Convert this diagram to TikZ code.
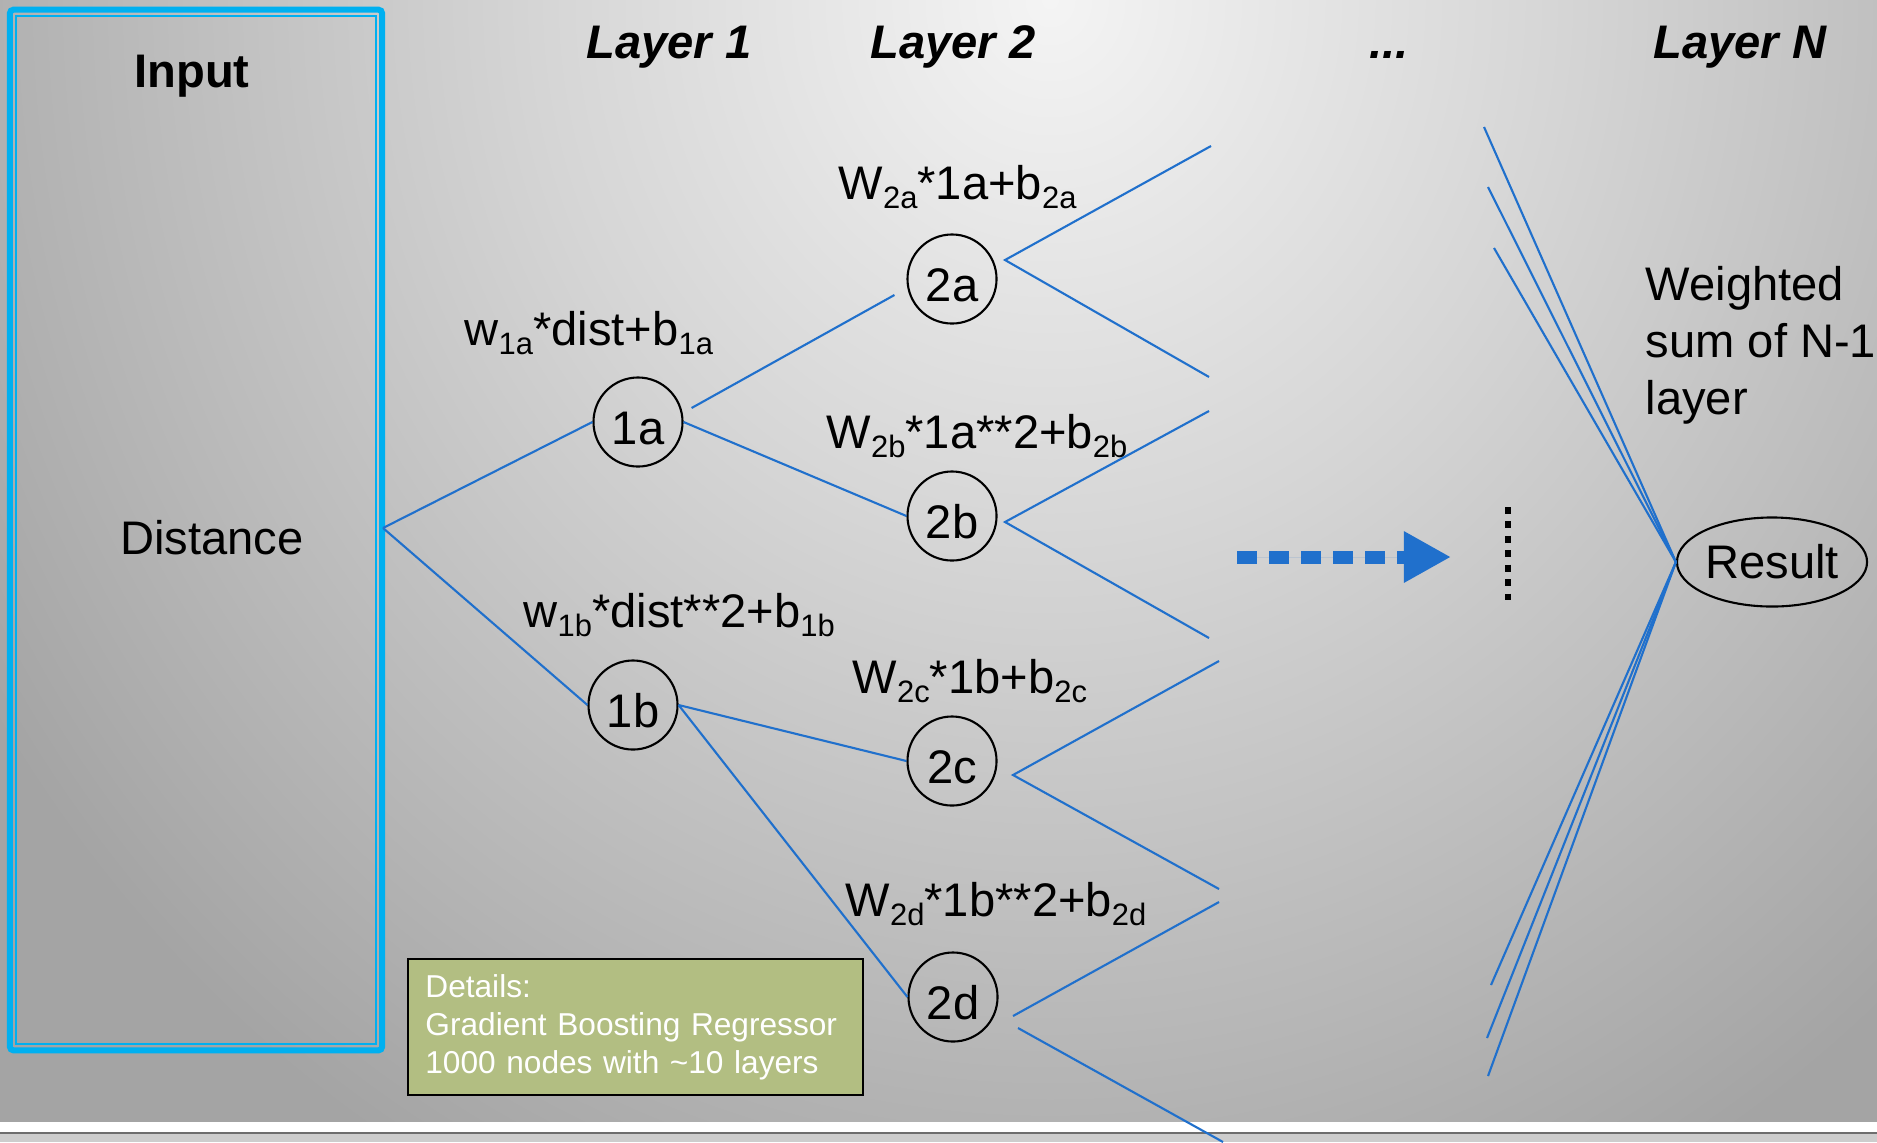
\documentclass[tikz,border=0pt]{standalone}
\usepackage{fontspec}
\setmainfont{Liberation Sans}
\usetikzlibrary{shapes.geometric,arrows.meta}
\definecolor{lineblue}{RGB}{32,112,204}
\definecolor{boxblue}{RGB}{0,176,240}
\definecolor{detfill}{RGB}{178,190,130}
\definecolor{bgin}{RGB}{244,244,244}
\definecolor{bgmid}{RGB}{214,214,214}
\definecolor{bgout}{RGB}{164,164,164}
\definecolor{stripgray}{RGB}{205,205,205}
\definecolor{stripshadow}{RGB}{110,110,110}
\pgfdeclareradialshading{bgshade}{\pgfpoint{0bp}{0bp}}{color(0bp)=(bgin);color(10bp)=(bgmid);color(25bp)=(bgout);color(50bp)=(bgout)}
\newcommand{\lsub}[1]{\raisebox{-0.21em}{\fontsize{8.8pt}{10pt}\selectfont #1}}
\begin{document}
\begin{tikzpicture}[x=0.01cm,y=-0.01cm,
  every node/.style={font=\fontsize{13.4pt}{16pt}\selectfont},
  neuron/.style={circle, draw=black, line width=0.6pt, minimum size=0.89cm, inner sep=0pt, text height=13pt, text depth=0pt},
  conn/.style={draw=lineblue, line width=0.6pt},
  flbl/.style={anchor=base west, inner sep=0pt},
  layerlbl/.style={anchor=base, inner sep=0pt, font=\fontsize{13.4pt}{16pt}\selectfont\bfseries\itshape}]
\useasboundingbox (0,0) rectangle (1877,1142);
% background
\fill[bgout] (0,0) rectangle (1877,1122);
\begin{scope}
  \clip (0,0) rectangle (1877,1122);
  \shade[shading=bgshade] (-200,-1350) rectangle (2300,1350);
\end{scope}
\fill[white] (0,1122) rectangle (1877,1132);
\fill[stripgray] (0,1132) rectangle (1877,1142);
\draw[stripshadow, line width=0.6pt] (0,1133) -- (1877,1133);
% input box
\node[draw=boxblue, line width=1.7pt, rounded corners=1pt, minimum width=3.72cm, minimum height=10.4cm, inner sep=0pt] (inbox) at (196,530) {};
\draw[boxblue, line width=0.55pt] (16,16) rectangle (376,1044);
\node[anchor=base, inner sep=0pt, font=\fontsize{13.4pt}{16pt}\selectfont\bfseries] (inputlbl) at (192,87) {Input};
\node[anchor=base, inner sep=0pt] (distlbl) at (212,554) {Distance};
% layer labels
\node[layerlbl] (lay1) at (669,58) {Layer 1};
\node[layerlbl] (lay2) at (953,58) {Layer 2};
\node[layerlbl] (laydots) at (1389,58) {...};
\node[layerlbl] (layN) at (1740,58) {Layer N};
% neurons
\node[neuron] (n1a) at (638,422) {1a};
\node[neuron] (n1b) at (633,705) {1b};
\node[neuron] (n2a) at (952,279) {2a};
\node[neuron] (n2b) at (952,516) {2b};
\node[neuron] (n2c) at (952,761) {2c};
\node[neuron] (n2d) at (953,997) {2d};
% formula labels
\node[flbl] (f1a) at (464,345) {w\lsub{1a}*dist+b\lsub{1a}};
\node[flbl] (f1b) at (523,627) {w\lsub{1b}*dist**2+b\lsub{1b}};
\node[flbl] (f2a) at (838,199) {W\lsub{2a}*1a+b\lsub{2a}};
\node[flbl] (f2b) at (826,448) {W\lsub{2b}*1a**2+b\lsub{2b}};
\node[flbl] (f2c) at (852,693) {W\lsub{2c}*1b+b\lsub{2c}};
\node[flbl] (f2d) at (845,916) {W\lsub{2d}*1b**2+b\lsub{2d}};
% connectors layer 0 -> 1 -> 2
\coordinate (fork) at (383,528);
\draw[conn] (fork) -- (n1a.west);
\draw[conn] (fork) -- (n1b.west);
\draw[conn] ([shift={(8,-14)}]n1a.east) -- ([shift={(-12,16)}]n2a.west);
\draw[conn] (n1a.east) -- (n2b.west);
\draw[conn] (n1b.east) -- (n2c.west);
\draw[conn] (n1b.east) -- (n2d.west);
% layer 2 outgoing
\coordinate (v2a) at (1005,260);
\coordinate (a1) at (1211,146);
\coordinate (a2) at (1209,377);
\coordinate (v2b) at (1005,522);
\coordinate (b1) at (1209,411);
\coordinate (b2) at (1209,638);
\coordinate (v2c) at (1013,775);
\coordinate (c1) at (1219,661);
\coordinate (c2) at (1219,889);
\coordinate (v2d) at (1013,1016);
\coordinate (d1) at (1219,902);
\coordinate (v2e) at (1018,1028);
\coordinate (d2) at (1223,1142);
\draw[conn] (a1) -- (v2a) -- (a2);
\draw[conn] (b1) -- (v2b) -- (b2);
\draw[conn] (c1) -- (v2c) -- (c2);
\draw[conn] (d1) -- (v2d);
\draw[conn] (v2e) -- (d2);
% dashed arrow and dots
\coordinate (arrS) at (1237,557);
\coordinate (arrE) at (1451,557);
\draw[draw=lineblue, fill=lineblue, line width=3.7pt, dash pattern=on 5.7pt off 3.4pt, -{Triangle[length=13.4pt,width=13.7pt]}] (arrS) -- (arrE);
\coordinate (dotS) at (1508,507);
\coordinate (dotE) at (1508,600);
\draw[black, line width=1.6pt, dash pattern=on 2pt off 2.1pt] (dotS) -- (dotE);
% result
\node[ellipse, draw=black, line width=0.6pt, minimum width=1.9cm, minimum height=0.89cm, inner sep=0pt] (res) at (1772,562) {Result};
\coordinate (t1) at (1484,127);
\coordinate (t2) at (1488,187);
\coordinate (t3) at (1494,248);
\coordinate (u1) at (1491,985);
\coordinate (u2) at (1487,1038);
\coordinate (u3) at (1488,1076);
\foreach \p in {t1,t2,t3,u1,u2,u3} \draw[conn] (\p) -- (res.west);
\node[anchor=north west, align=left, inner sep=0pt, font=\fontsize{13.4pt}{16.1pt}\selectfont] (wsum) at (1645,266) {Weighted\\sum of N-1\\layer};
% details
\node[draw=black, line width=0.5pt, fill=detfill, text=white, font=\fontsize{9pt}{10.8pt}\selectfont, align=left, text width=4.2cm, inner xsep=0.175cm, inner ysep=0pt, minimum height=1.36cm, anchor=north west] (details) at (407,958) {Details:\\Gradient Boosting Regressor\\1000 nodes with \textasciitilde10 layers};
\end{tikzpicture}
\end{document}
